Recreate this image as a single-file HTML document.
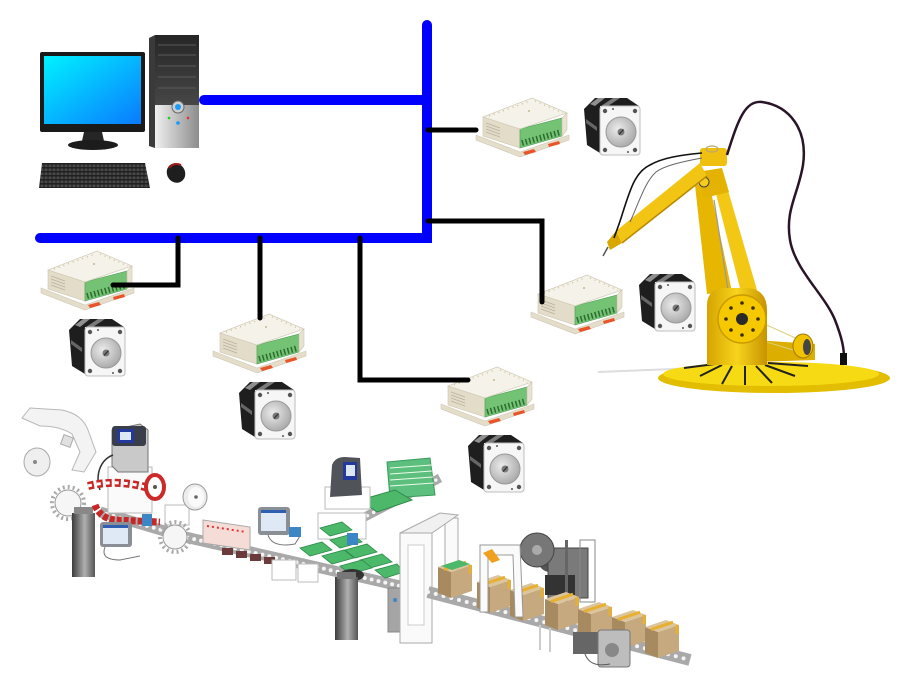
<!DOCTYPE html>
<html><head><meta charset="utf-8"><style>html,body{margin:0;padding:0;background:#fff}svg{display:block}</style></head>
<body>
<svg width="900" height="700" viewBox="0 0 900 700" xmlns="http://www.w3.org/2000/svg">
<defs>
 <linearGradient id="scr" x1="0" y1="0" x2="1" y2="1"><stop offset="0" stop-color="#00f2ff"/><stop offset="1" stop-color="#0a7aff"/></linearGradient>
 <linearGradient id="twr" x1="0" y1="0" x2="0" y2="1"><stop offset="0" stop-color="#262626"/><stop offset="1" stop-color="#474747"/></linearGradient>
 <linearGradient id="silv" x1="0" y1="0" x2="1" y2="0"><stop offset="0" stop-color="#f0f0f0"/><stop offset="1" stop-color="#8c8c8c"/></linearGradient>
 <linearGradient id="pil" x1="0" y1="0" x2="1" y2="0"><stop offset="0" stop-color="#3c3c3c"/><stop offset=".55" stop-color="#b0b0b0"/><stop offset="1" stop-color="#555"/></linearGradient>
 <radialGradient id="hub" cx=".4" cy=".4" r=".7"><stop offset="0" stop-color="#ececec"/><stop offset="1" stop-color="#a2a2a2"/></radialGradient>
 <linearGradient id="yel" x1="0" y1="0" x2="1" y2="0"><stop offset="0" stop-color="#d6a400"/><stop offset=".5" stop-color="#f7d41c"/><stop offset="1" stop-color="#c79300"/></linearGradient>
 <pattern id="keys" width="4" height="4" patternUnits="userSpaceOnUse"><rect width="4" height="4" fill="#1e1e1e"/><rect x=".5" y=".5" width="3" height="2.6" fill="#4a4a4a"/></pattern>
 <g id="mod">
  <polygon points="3,38 47,55 96,38 96,43 47,60 3,43" fill="#e3ddca" stroke="#cfc8b3" stroke-width=".6"/>
  <polygon points="10,20 47,32 47,51 10,39" fill="#e2dcc9" stroke="#cbc4ae" stroke-width=".6"/>
  <g stroke="#b9b19a" stroke-width=".8"><line x1="13" y1="26" x2="27" y2="31"/><line x1="13" y1="29" x2="27" y2="34"/><line x1="13" y1="32" x2="27" y2="37"/><line x1="13" y1="35" x2="27" y2="40"/></g>
  <polygon points="47,32 89,21 89,39 47,51" fill="#74c375" stroke="#4e9a52" stroke-width=".6"/>
  <line x1="49" y1="46" x2="88" y2="35" stroke="#2d6b30" stroke-width="6" stroke-dasharray="1.5 2.2"/>
  <polygon points="89,21 94,16 94,33 89,39" fill="#e8e2d0" stroke="#cbc4ae" stroke-width=".6"/>
  <polygon points="10,20 59,1 94,16 47,32" fill="#f4f2e9" stroke="#d2cbb6" stroke-width=".7"/>
  <line x1="16" y1="19" x2="57" y2="4" stroke="#cdbf98" stroke-width="1.4" stroke-dasharray="1 4"/>
  <line x1="62" y1="4" x2="90" y2="16" stroke="#cdbf98" stroke-width="1.4" stroke-dasharray="1 4"/>
  <circle cx="56" cy="14" r="1" fill="#c8b890"/>
  <polygon points="50,55 61,52 63,55 52,58" fill="#e8552a"/>
  <polygon points="75,47 86,44 87,47 76,50" fill="#e8552a"/>
 </g>
 <g id="mot">
  <polygon points="1,12 12,1 44,1 56,9 17,9 17,56 4,48" fill="#1e1e1e"/>
  <polygon points="7,7 15,1 22,1 12,9" fill="#8f8f8f"/>
  <polygon points="30,1 37,1 25,9 18,9" fill="#7a7a7a"/>
  <polygon points="3,22 14,30 14,34 3,26" fill="#666"/>
  <rect x="17" y="9" width="40" height="49" rx="3" fill="#f6f6f6" stroke="#bdbdbd"/>
  <circle cx="38" cy="35" r="15" fill="url(#hub)" stroke="#999"/>
  <circle cx="38" cy="35" r="3.5" fill="#7a7a7a"/>
  <line x1="36" y1="37.5" x2="40.5" y2="32.5" stroke="#333" stroke-width="1.3"/>
  <g fill="#555"><circle cx="22" cy="14" r="2.2"/><circle cx="52" cy="14" r="2.2"/><circle cx="22" cy="53" r="2.2"/><circle cx="52" cy="53" r="2.2"/><circle cx="30" cy="12" r="1"/><circle cx="45" cy="55" r="1"/></g>
 </g>
 <g id="box">
  <polygon points="0,7 13,12 13,38 0,33" fill="#a88a60"/>
  <polygon points="13,12 34,5 34,31 13,38" fill="#c6a97e"/>
  <polygon points="0,7 21,0 34,5 13,12" fill="#dcc59c"/>
  <line x1="6" y1="9.5" x2="28" y2="2.2" stroke="#e8b030" stroke-width="3"/>
  <line x1="32" y1="5" x2="32" y2="14" stroke="#e8b030" stroke-width="3"/>
 </g>
</defs>

<!-- ===== Computer ===== -->
<rect x="40" y="52" width="105" height="80" rx="2" fill="#1a1a1a"/>
<rect x="44" y="56" width="97" height="68" fill="url(#scr)"/>
<polygon points="84,132 102,132 104,141 82,141" fill="#262626"/>
<ellipse cx="93" cy="145" rx="25" ry="5" fill="#1c1c1c"/>
<polygon points="149,38 155,35 155,148 149,146" fill="#3a3a3a"/>
<rect x="155" y="35" width="44" height="72" fill="url(#twr)"/>
<rect x="155" y="105" width="44" height="43" fill="url(#silv)"/>
<g stroke="#5a5a5a" stroke-width="1"><line x1="158" y1="45" x2="196" y2="45"/><line x1="158" y1="55" x2="196" y2="55"/><line x1="158" y1="66" x2="196" y2="66"/><line x1="158" y1="77" x2="196" y2="77"/><line x1="158" y1="88" x2="196" y2="88"/></g>
<circle cx="178" cy="107" r="6" fill="#cfcfcf" stroke="#666"/>
<circle cx="178" cy="107" r="3" fill="#1a9cff"/>
<circle cx="169" cy="118" r="1.3" fill="#2c2"/><circle cx="188" cy="118" r="1.3" fill="#d33"/><circle cx="178" cy="123" r="1.8" fill="#19f"/>
<polygon points="42,163 145,163 150,188 39,188" fill="url(#keys)"/>
<ellipse cx="176" cy="173" rx="9" ry="10" transform="rotate(-30 176 173)" fill="#1e1e1e"/>
<path d="M169,168 Q174,162 181,165" stroke="#a01818" stroke-width="2" fill="none"/>

<!-- ===== Modules & motors ===== -->
<use href="#mod" transform="translate(38,250)"/>
<use href="#mod" transform="translate(210,313)"/>
<use href="#mod" transform="translate(438,366)"/>
<use href="#mod" transform="translate(473,97)"/>
<use href="#mod" transform="translate(528,274)"/>
<use href="#mot" transform="translate(68,318)"/>
<use href="#mot" transform="translate(238,381)"/>
<use href="#mot" transform="translate(467,434)"/>
<use href="#mot" transform="translate(583,97)"/>
<use href="#mot" transform="translate(638,273)"/>

<!-- ===== Robot ===== -->
<line x1="598" y1="372" x2="700" y2="368" stroke="#ddd" stroke-width="2"/>
<ellipse cx="774" cy="378" rx="116" ry="15" fill="#e2bd00"/>
<ellipse cx="771" cy="374" rx="108" ry="12" fill="#f6da14"/>
<g stroke="#222" stroke-width="2"><line x1="715" y1="364" x2="684" y2="368"/><line x1="722" y1="365" x2="700" y2="376"/><line x1="732" y1="366" x2="722" y2="384"/><line x1="745" y1="366" x2="745" y2="385"/><line x1="756" y1="366" x2="772" y2="383"/><line x1="765" y1="365" x2="795" y2="376"/><line x1="768" y1="363" x2="808" y2="366"/></g>
<polygon points="755,340 815,344 815,360 755,362" fill="#dcae00"/>
<g stroke="#d8d27a" stroke-width="1"><line x1="760" y1="322" x2="800" y2="340"/><line x1="760" y1="340" x2="800" y2="352"/></g>
<ellipse cx="803" cy="346" rx="10" ry="12" fill="#f0c200" stroke="#a07a00"/>
<ellipse cx="807" cy="347" rx="4" ry="8" fill="#444"/>
<polygon points="695,185 709,182 732,292 707,294" fill="#e6b600"/>
<polygon points="715,190 727,187 757,290 741,292" fill="#f2c814"/>
<line x1="714" y1="200" x2="728" y2="290" stroke="#999" stroke-width="1.2"/>
<path d="M707,365 L707,305 Q707,288 727,288 L748,288 Q767,290 767,310 L767,365 Z" fill="url(#yel)"/>
<circle cx="742" cy="319" r="24" fill="#f5c800" stroke="#c89a00" stroke-width="1.5"/>
<g fill="#3a2e00"><circle cx="742" cy="303" r="1.8"/><circle cx="753" cy="308" r="1.8"/><circle cx="758" cy="319" r="1.8"/><circle cx="753" cy="330" r="1.8"/><circle cx="742" cy="335" r="1.8"/><circle cx="731" cy="330" r="1.8"/><circle cx="726" cy="319" r="1.8"/><circle cx="731" cy="308" r="1.8"/></g>
<circle cx="742" cy="319" r="6" fill="#2a2a2a"/>
<path d="M697,172 L722,168 L729,192 L704,198 Z" fill="#e4b200"/>
<circle cx="704" cy="182" r="5" fill="#f5cc20" stroke="#444"/>
<polygon points="700,163 707,176 622,243 616,231" fill="#f2c414"/>
<line x1="707" y1="176" x2="622" y2="243" stroke="#b88a00" stroke-width="1.5"/>
<rect x="700" y="148" width="27" height="18" rx="3" fill="#f0c010"/>
<ellipse cx="712" cy="149" rx="6" ry="3" fill="none" stroke="#b8a870" stroke-width="1.2"/>
<polygon points="616,231 622,243 610,250 607,242" fill="#d9a800"/>
<line x1="608" y1="247" x2="603" y2="256" stroke="#555" stroke-width="1.5"/>
<path d="M727,155 C738,120 745,100 762,102 C790,106 808,130 803,165 C798,195 785,210 790,240 C795,270 825,295 835,320 C842,338 844,348 844,358" stroke="#2a1428" stroke-width="2.5" fill="none"/>
<rect x="840" y="353" width="7" height="12" fill="#111"/>
<path d="M702,153 C680,155 662,158 650,165 C635,172 630,190 622,215 C619,225 616,232 614,238" stroke="#111" stroke-width="1.6" fill="none"/>
<path d="M702,158 C680,162 664,166 656,172 C645,182 640,200 630,222" stroke="#666" stroke-width="1" fill="none"/>

<!-- ===== Production line ===== -->
<path d="M22,418 L30,408 L62,410 Q82,414 88,430 L96,452 L84,472 L72,470 L80,452 L72,434 Q60,426 40,426 Z" fill="#f3f3f3" stroke="#b8b8b8"/>
<rect x="62" y="436" width="10" height="10" fill="#e0e0e0" stroke="#aaa" transform="rotate(20 67 441)"/>
<ellipse cx="37" cy="462" rx="13" ry="14" fill="#efefef" stroke="#aaa"/>
<circle cx="35" cy="462" r="2" fill="#888"/>
<circle cx="68" cy="503" r="16" fill="none" stroke="#aaa" stroke-width="4" stroke-dasharray="2 3"/>
<circle cx="68" cy="503" r="13" fill="#f6f6f6" stroke="#999"/>
<path d="M100,512 L185,537 L400,586" stroke="#a9a9a9" stroke-width="11" fill="none"/>
<path d="M100,512 L185,537 L400,586" stroke="#f4f4f4" stroke-width="4" stroke-dasharray="0 7" stroke-linecap="round" fill="none"/>
<rect x="72" y="513" width="23" height="64" fill="url(#pil)"/>
<rect x="74" y="507" width="19" height="7" fill="#888"/>
<rect x="108" y="467" width="44" height="46" fill="#fafafa" stroke="#b8b8b8"/>
<polygon points="112,430 140,424 148,430 148,472 118,472 112,466" fill="#c9c9c9" stroke="#777"/>
<rect x="112" y="426" width="34" height="20" rx="3" fill="#3a3d4a"/>
<rect x="117" y="429" width="17" height="14" fill="#23399c"/>
<rect x="120" y="432" width="11" height="8" fill="#dce6f5"/>
<path d="M113,455 C100,460 95,475 100,490" stroke="#333" stroke-width="1.5" fill="none"/>
<path d="M88,486 Q120,478 155,490" stroke="#c62828" stroke-width="8" fill="none" stroke-dasharray="6 3"/>
<path d="M88,486 Q120,478 155,490" stroke="#fff" stroke-width="3" fill="none" stroke-dasharray="4 5"/>
<ellipse cx="155" cy="487" rx="9" ry="12" fill="#fff" stroke="#cc2a2a" stroke-width="4"/>
<circle cx="155" cy="487" r="2" fill="#555"/>
<path d="M95,505 Q100,518 115,520 L160,522" stroke="#c62828" stroke-width="7" fill="none" stroke-dasharray="5 2"/>
<rect x="165" y="505" width="24" height="20" fill="#fff" stroke="#bbb"/>
<ellipse cx="195" cy="497" rx="12" ry="13" fill="#ececec" stroke="#999"/>
<ellipse cx="196" cy="497" rx="8" ry="10" fill="#fafafa"/>
<circle cx="196" cy="497" r="1.8" fill="#666"/>
<rect x="100" y="522" width="32" height="25" rx="3" fill="#8a8f96"/>
<rect x="103" y="525" width="25" height="19" fill="#dfe9f6"/>
<rect x="103" y="525" width="25" height="3" fill="#2f5fb0"/>
<path d="M105,547 Q100,560 120,560 L140,556" stroke="#777" fill="none"/>
<rect x="142" y="514" width="10" height="12" fill="#3d86c6"/>
<circle cx="175" cy="537" r="15" fill="none" stroke="#aaa" stroke-width="4" stroke-dasharray="2 3"/>
<circle cx="175" cy="537" r="12" fill="#f6f6f6" stroke="#999"/>
<polygon points="203,520 250,527 250,550 203,543" fill="#f6dcd6" stroke="#aaa"/>
<line x1="207" y1="526" x2="246" y2="532" stroke="#d33" stroke-width="2" stroke-dasharray="2 3"/>
<g fill="#6b3a3a"><rect x="222" y="548" width="11" height="7"/><rect x="236" y="551" width="11" height="7"/><rect x="250" y="554" width="11" height="7"/><rect x="264" y="557" width="11" height="7"/></g>
<rect x="272" y="560" width="24" height="20" fill="#fff" stroke="#bbb"/>
<rect x="298" y="564" width="20" height="18" fill="#fff" stroke="#bbb"/>
<rect x="258" y="507" width="32" height="28" rx="3" fill="#8a8f96"/>
<rect x="261" y="510" width="25" height="21" fill="#dfe9f6"/>
<rect x="261" y="510" width="25" height="3" fill="#2f5fb0"/>
<path d="M268,535 Q272,548 295,544 L300,536" stroke="#777" fill="none"/>
<rect x="289" y="527" width="12" height="10" fill="#3d86c6"/>
<path d="M355,522 L440,478" stroke="#a9a9a9" stroke-width="9" fill="none"/>
<path d="M355,522 L440,478" stroke="#f4f4f4" stroke-width="3.5" stroke-dasharray="0 7" stroke-linecap="round" fill="none"/>
<polygon points="387,462 430,458 435,495 390,498" fill="#5dbf7e" stroke="#3a9a5a"/>
<g stroke="#eafbe8" stroke-width="1"><line x1="390" y1="468" x2="432" y2="465"/><line x1="390" y1="474" x2="432" y2="471"/><line x1="390" y1="480" x2="433" y2="477"/><line x1="390" y1="486" x2="434" y2="483"/></g>
<polygon points="360,500 395,490 412,500 377,512" fill="#4db86a" stroke="#2e8a4a"/>
<rect x="325" y="487" width="45" height="22" fill="#fff" stroke="#bbb"/>
<path d="M332,465 Q335,457 345,457 L360,458 L362,495 L330,497 Z" fill="#505358"/>
<rect x="343" y="462" width="14" height="18" fill="#23399c"/>
<rect x="346" y="465" width="9" height="11" fill="#dce6f5"/>
<rect x="318" y="513" width="48" height="26" fill="#fff" stroke="#bbb"/>
<g fill="#4cb86a" stroke="#2e8a4a" stroke-width=".8">
<polygon points="320,528 342,522 352,530 330,536"/><polygon points="330,540 352,534 362,542 340,548"/>
<polygon points="300,548 322,542 332,550 310,556"/><polygon points="345,550 367,544 377,552 355,558"/>
<polygon points="360,560 382,554 392,562 370,568"/><polygon points="322,556 344,550 354,558 332,564"/>
<polygon points="375,570 397,564 404,572 385,578"/><polygon points="340,566 362,560 372,568 350,574"/>
</g>
<rect x="347" y="533" width="11" height="12" fill="#3d86c6"/>
<ellipse cx="352" cy="575" rx="12" ry="6" fill="#333"/>
<rect x="335" y="577" width="23" height="63" fill="url(#pil)"/>
<rect x="337" y="572" width="19" height="7" fill="#777"/>
<rect x="388" y="588" width="14" height="44" fill="#a5a5a5" stroke="#888"/>
<circle cx="395" cy="600" r="2" fill="#3d86c6"/>
<rect x="445" y="518" width="13" height="82" fill="#fafafa" stroke="#aaa"/>
<rect x="400" y="533" width="32" height="110" fill="#fafafa" stroke="#aaa"/>
<rect x="408" y="545" width="16" height="80" fill="#fff" stroke="#ccc"/>
<polygon points="400,533 440,513 458,515 432,533" fill="#f0f0f0" stroke="#aaa"/>
<path d="M428,592 L690,660" stroke="#a9a9a9" stroke-width="12" fill="none"/>
<path d="M428,592 L690,660" stroke="#f4f4f4" stroke-width="4" stroke-dasharray="0 8" stroke-linecap="round" fill="none"/>
<g stroke="#ccc" stroke-width="2"><line x1="540" y1="625" x2="540" y2="650"/><line x1="550" y1="628" x2="550" y2="652"/></g>
<circle cx="550" cy="560" r="12" fill="#555"/>
<rect x="548" y="548" width="40" height="50" fill="#7a7a7a" stroke="#444"/>
<rect x="545" y="575" width="30" height="20" fill="#333"/>
<rect x="580" y="540" width="15" height="62" fill="none" stroke="#888"/>
<rect x="565" y="540" width="3" height="72" fill="#666"/>
<circle cx="537" cy="550" r="17" fill="#777" stroke="#444"/>
<circle cx="537" cy="550" r="5" fill="#aaa"/>
<use href="#box" transform="translate(438,560)"/>
<polygon points="441,566 459,560 470,564 452,570" fill="#4cb86a"/>
<use href="#box" transform="translate(477,575)"/>
<use href="#box" transform="translate(510,583)"/>
<use href="#box" transform="translate(545,592)"/>
<use href="#box" transform="translate(578,602)"/>
<use href="#box" transform="translate(612,610)"/>
<use href="#box" transform="translate(645,620)"/>
<polygon points="480,545 520,545 523,617 515,617 513,555 488,555 488,612 480,612" fill="#fafafa" stroke="#999"/>
<polygon points="483,553 492,549 500,560 492,563" fill="#f0a020"/>
<rect x="573" y="632" width="28" height="22" fill="#666"/>
<rect x="598" y="630" width="32" height="37" rx="3" fill="#bdbdbd" stroke="#777"/>
<circle cx="612" cy="650" r="7" fill="#888"/>
<path d="M585,654 Q590,668 610,664" stroke="#555" fill="none"/>

<!-- ===== Bus lines ===== -->
<polyline points="40,238 427,238 427,25" fill="none" stroke="#0000ff" stroke-width="10" stroke-linecap="round" stroke-linejoin="miter"/>
<line x1="204" y1="100" x2="427" y2="100" stroke="#0000ff" stroke-width="10" stroke-linecap="round"/>
<g fill="none" stroke="#000" stroke-width="5" stroke-linecap="round" stroke-linejoin="miter">
<line x1="428" y1="130" x2="476" y2="130"/>
<polyline points="428,221 542,221 542,302"/>
<polyline points="178,238 178,285 113,285"/>
<line x1="260" y1="238" x2="260" y2="318"/>
<polyline points="360,238 360,380 468,380"/>
</g>
</svg>
</body></html>
